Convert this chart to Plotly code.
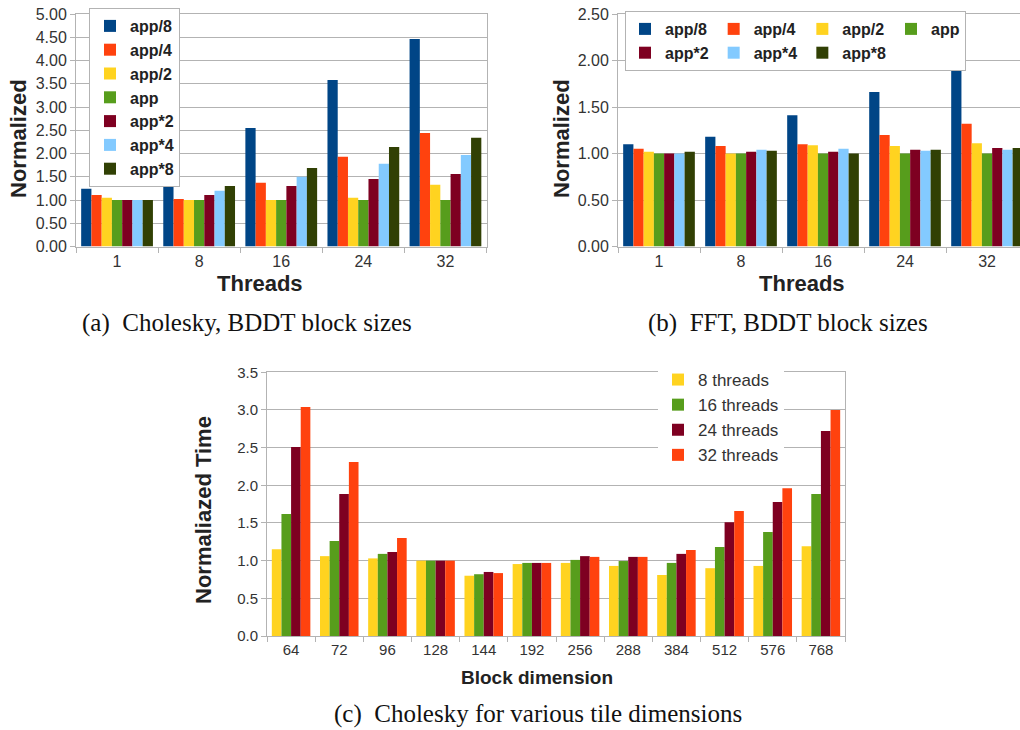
import plotly.graph_objects as go

# ---------------- data ----------------
threads = ["1", "8", "16", "24", "32"]
block_series = ["app/8", "app/4", "app/2", "app", "app*2", "app*4", "app*8"]

chol_app8 = [1.24, 1.33, 2.55, 3.58, 4.46]
chol_app4 = [1.11, 1.02, 1.37, 1.93, 2.44]
chol_app2 = [1.05, 1.00, 1.00, 1.05, 1.33]
chol_app = [1.00, 1.00, 1.00, 1.00, 1.00]
chol_appx2 = [1.00, 1.11, 1.30, 1.45, 1.56]
chol_appx4 = [1.00, 1.20, 1.50, 1.78, 1.97]
chol_appx8 = [1.00, 1.30, 1.69, 2.14, 2.34]

fft_app8 = [1.10, 1.18, 1.41, 1.66, 1.97]
fft_app4 = [1.05, 1.08, 1.10, 1.20, 1.32]
fft_app2 = [1.02, 1.00, 1.09, 1.08, 1.11]
fft_app = [1.00, 1.00, 1.00, 1.00, 1.00]
fft_appx2 = [1.00, 1.02, 1.02, 1.04, 1.06]
fft_appx4 = [1.00, 1.04, 1.05, 1.03, 1.04]
fft_appx8 = [1.02, 1.03, 1.00, 1.04, 1.06]

block_dims = ["64", "72", "96", "128", "144", "192", "256", "288", "384", "512", "576", "768"]
thread_series = ["8 threads", "16 threads", "24 threads", "32 threads"]
t8 = [1.15, 1.06, 1.03, 1.00, 0.80, 0.955, 0.97, 0.93, 0.81, 0.90, 0.93, 1.19]
t16 = [1.62, 1.26, 1.09, 1.00, 0.82, 0.97, 1.01, 0.995, 0.97, 1.18, 1.38, 1.885]
t24 = [2.51, 1.885, 1.115, 1.00, 0.85, 0.97, 1.06, 1.05, 1.09, 1.51, 1.78, 2.72]
t32 = [3.04, 2.31, 1.30, 1.00, 0.835, 0.97, 1.05, 1.05, 1.14, 1.66, 1.96, 3.00]

# ---------------- style ----------------
W, H = 1020, 730
block_colors = ["#004586", "#ff420e", "#ffd320", "#579d1c", "#7e0021", "#83caff", "#314004"]
# column groups used to lay the horizontal legend of (b) out in two rows
fft_legend_cols = ["c1", "c2", "c3", "c4", "c1", "c2", "c3"]
thread_colors = ["#ffd320", "#579d1c", "#7e0021", "#ff420e"]
GRID = "#b3b3b3"
TXT = "#333333"
SANS = "Liberation Sans, Arial, sans-serif"
SERIF = "Liberation Serif, Times New Roman, serif"


def px_x(x0, x1):
    return [x0 / W, x1 / W]


def px_y(top, bottom):
    return [1 - bottom / H, 1 - top / H]


fig = go.Figure()

chol = [chol_app8, chol_app4, chol_app2, chol_app, chol_appx2, chol_appx4, chol_appx8]
fft = [fft_app8, fft_app4, fft_app2, fft_app, fft_appx2, fft_appx4, fft_appx8]

for name, vals, col in zip(block_series, chol, block_colors):
    fig.add_trace(go.Bar(x=threads, y=vals, name=name, marker_color=col,
                         marker_line_width=0, xaxis="x", yaxis="y",
                         legend="legend", offsetgroup=name))
for name, vals, col, grp_id in zip(block_series, fft, block_colors, fft_legend_cols):
    fig.add_trace(go.Bar(x=threads, y=vals, name=name, marker_color=col,
                         marker_line_width=0, xaxis="x2", yaxis="y2",
                         legend="legend2", legendgroup=grp_id,
                         offsetgroup=name + "b"))

tvals = [t8, t16, t24, t32]
n = len(thread_series)
grp = 0.8
for i, (name, vals, col) in enumerate(zip(thread_series, tvals, thread_colors)):
    fig.add_trace(go.Bar(x=block_dims, y=vals, name=name, marker_color=col,
                         marker_line_width=0, xaxis="x3", yaxis="y3",
                         legend="legend3", width=grp / n,
                         offset=-grp / 2 + i * grp / n))

tickfont_ab = dict(family=SANS, size=16, color=TXT)
tickfont_c = dict(family=SANS, size=15, color=TXT)

common_x = dict(type="category", showline=True, linecolor=GRID, linewidth=1,
                ticks="outside", tickson="boundaries", ticklen=5, tickcolor=GRID,
                showgrid=False, mirror=True, zeroline=False, tickangle=0)
common_y = dict(showline=True, linecolor=GRID, linewidth=1, ticks="outside",
                ticklen=5, tickcolor=GRID, showgrid=True, gridcolor=GRID,
                gridwidth=1, mirror=True, zeroline=False, dtick=0.5, tick0=0)


def title_ann(text, x, y, size, angle=0):
    return dict(text="<b>" + text + "</b>", x=x / W, y=1 - y / H, xref="paper", yref="paper",
                xanchor="center", yanchor="middle", showarrow=False, textangle=angle,
                font=dict(family=SANS, size=size, color="#222222"))


def caption_ann(text, x, y):
    return dict(text=text, x=x / W, y=1 - y / H, xref="paper", yref="paper",
                xanchor="center", yanchor="middle", showarrow=False,
                font=dict(family=SERIF, size=25, color="#111111"))


fig.update_layout(
    width=W, height=H,
    margin=dict(l=0, r=0, t=0, b=0, autoexpand=False),
    paper_bgcolor="white", plot_bgcolor="white",
    barmode="group", bargap=0.126, bargroupgap=0,
    xaxis=dict(common_x, domain=px_x(76, 486.5), anchor="y", range=[-0.5, 4.5],
               tickfont=tickfont_ab),
    yaxis=dict(common_y, domain=px_y(14, 246.5), anchor="x", range=[0, 5.0],
               tickformat=".2f", tickfont=tickfont_ab),
    xaxis2=dict(common_x, domain=px_x(618, 1020), anchor="y2", range=[-0.5, 4.402],
                tickfont=tickfont_ab),
    yaxis2=dict(common_y, domain=px_y(14, 246.5), anchor="x2", range=[0, 2.5],
                tickformat=".2f", tickfont=tickfont_ab),
    xaxis3=dict(common_x, domain=px_x(267, 845), anchor="y3", range=[-0.5, 11.5],
                tickfont=tickfont_c),
    yaxis3=dict(common_y, domain=px_y(372.3, 636), anchor="x3", range=[0, 3.5],
                tickformat=".1f", tickfont=tickfont_c),
    legend=dict(x=89 / W, y=1 - 8 / H, xanchor="left", yanchor="top",
                bgcolor="white", bordercolor=GRID, borderwidth=1,
                font=dict(family=SANS, size=16, color="#222222", weight="bold"),
                tracegroupgap=0),
    legend2=dict(x=625 / W, y=1 - 11 / H, xanchor="left", yanchor="top",
                 orientation="h", bgcolor="white", bordercolor=GRID, borderwidth=1,
                 font=dict(family=SANS, size=16, color="#222222", weight="bold"),
                 tracegroupgap=0, traceorder="grouped", groupclick="toggleitem"),
    legend3=dict(x=658 / W, y=1 - 362 / H, xanchor="left", yanchor="top",
                 bgcolor="white", borderwidth=0,
                 font=dict(family=SANS, size=17, color=TXT)),
    annotations=[
        title_ann("Threads", 260, 284, 22),
        title_ann("Normalized", 18, 139, 22, -90),
        title_ann("Threads", 802, 284, 22),
        title_ann("Normalized", 561, 139, 22, -90),
        title_ann("Block dimension", 537, 677, 19),
        title_ann("Normaliazed Time", 203, 510, 22, -90),
        caption_ann("(a)  Cholesky, BDDT block sizes", 247, 323),
        caption_ann("(b)  FFT, BDDT block sizes", 788, 323),
        caption_ann("(c)  Cholesky for various tile dimensions", 538, 714),
    ],
)

fig.write_html("out.html", config={"displayModeBar": False},
               post_script="document.body.style.margin='0px';")
